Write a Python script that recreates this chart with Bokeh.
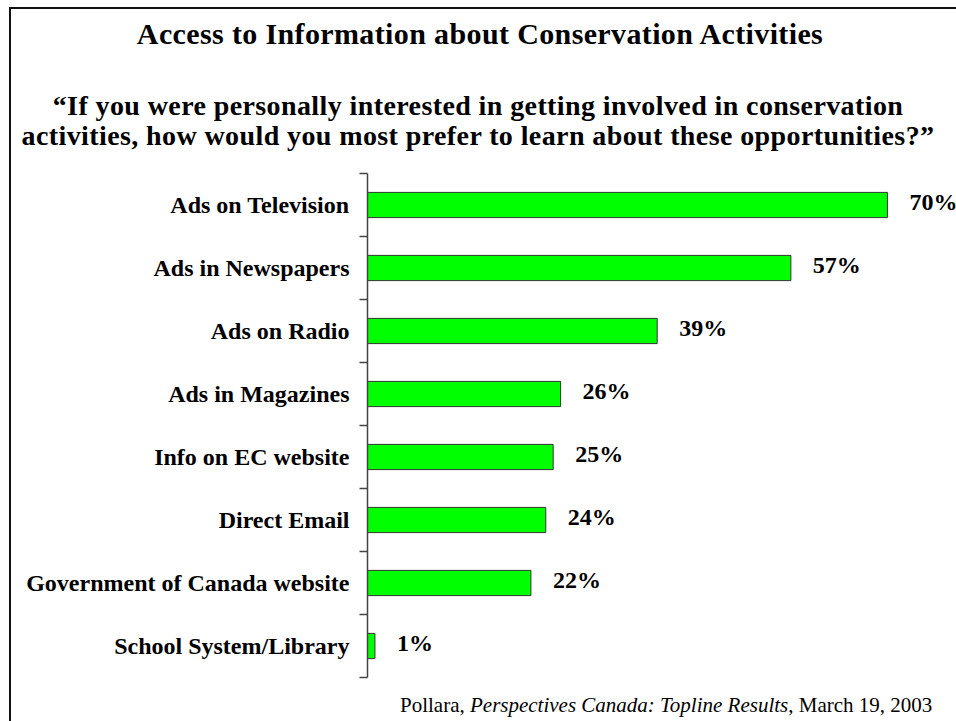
from bokeh.plotting import figure
from bokeh.models import Range1d, FixedTicker, Div
from bokeh.layouts import column
from bokeh.core.properties import value
from bokeh.embed import file_html
from bokeh.resources import INLINE

# ---- data ----
categories = [
    "Ads on Television",
    "Ads in Newspapers",
    "Ads on Radio",
    "Ads in Magazines",
    "Info on EC website",
    "Direct Email",
    "Government of Canada website",
    "School System/Library",
]
percent = [70, 57, 39, 26, 25, 24, 22, 1]
percent_labels = [f"{v}%" for v in percent]

title_text = "Access to Information about Conservation Activities"
question_lines = [
    "\u201cIf you were personally interested in getting involved in conservation",
    "activities, how would you most prefer to learn about these opportunities?\u201d",
]
source_parts = ["Pollara, ", "Perspectives Canada: Topline Results", ", March 19, 2003"]

# ---- layout (pixels) ----
CONTENT_W = 945
HEADER_H = 154
FIG_H = 524
FOOTER_H = 34
BORDER_LEFT = 356
X_END = 79.3
SERIF = "Liberation Serif"
FONT_CSS = "'Liberation Serif', 'Times New Roman', serif"

idx = list(range(len(categories)))

header = Div(
    width=CONTENT_W, height=HEADER_H, margin=0,
    text=(
        f'<div style="position:relative;width:{CONTENT_W}px;height:{HEADER_H}px;'
        f'font-family:{FONT_CSS};color:black;">'
        f'<div style="position:absolute;left:0;top:10px;width:938px;text-align:center;'
        f'font-size:30px;line-height:30px;font-weight:bold;letter-spacing:0.37px;'
        f'white-space:nowrap;">{title_text}</div>'
        f'<div style="position:absolute;left:0;top:82px;width:934px;text-align:center;'
        f'font-size:28px;line-height:30px;font-weight:bold;letter-spacing:0.4px;'
        f'white-space:nowrap;">{question_lines[0]}<br>{question_lines[1]}</div>'
        f'</div>'
    ),
)

p = figure(
    width=CONTENT_W, height=FIG_H,
    x_range=Range1d(0, X_END),
    y_range=Range1d(len(categories) - 0.5, -0.5),
    x_axis_location=None,
    output_backend="svg", toolbar_location=None,
    min_border_left=BORDER_LEFT, min_border_right=0,
    min_border_top=10, min_border_bottom=10,
)
p.grid.visible = False
p.outline_line_color = None
p.background_fill_color = "white"
p.border_fill_color = "white"

p.hbar(y=idx, left=0, right=percent, height=0.4,
       fill_color="#00FF00", line_color="#333333", line_width=1)

p.text(x=percent, y=idx, text=percent_labels, x_offset=22, y_offset=-3,
       text_font=value(SERIF), text_font_style="bold", text_font_size="24px",
       text_color="black", text_align="left", text_baseline="middle")

ax = p.yaxis[0]
ax.ticker = FixedTicker(ticks=idx, minor_ticks=[i - 0.5 for i in range(len(categories) + 1)])
ax.major_label_overrides = {i: c for i, c in zip(idx, categories)}
ax.axis_line_color = "#444444"
ax.axis_line_width = 1.5
ax.major_tick_line_color = None
ax.major_tick_out = 8
ax.major_tick_in = 0
ax.minor_tick_line_color = "#444444"
ax.minor_tick_line_width = 1.5
ax.minor_tick_out = 8
ax.minor_tick_in = 0
ax.major_label_standoff = 10
ax.major_label_text_font = SERIF
ax.major_label_text_font_style = "bold"
ax.major_label_text_font_size = "24px"
ax.major_label_text_color = "black"

footer = Div(
    width=CONTENT_W, height=FOOTER_H, margin=0,
    text=(
        f'<div style="position:relative;width:{CONTENT_W}px;height:{FOOTER_H}px;overflow:hidden;'
        f'font-family:{FONT_CSS};color:black;">'
        f'<div style="position:absolute;left:389px;top:8px;font-size:21px;line-height:21px;'
        f'white-space:nowrap;">{source_parts[0]}<i>{source_parts[1]}</i>{source_parts[2]}</div>'
        f'</div>'
    ),
)

layout = column(
    header, p, footer,
    styles={
        "border-left": "2px solid #111111",
        "border-top": "2px solid #111111",
        "margin-left": "9px",
        "margin-top": "7px",
    },
)

out = file_html(layout, INLINE)
open("out.html", "w").write(out)
